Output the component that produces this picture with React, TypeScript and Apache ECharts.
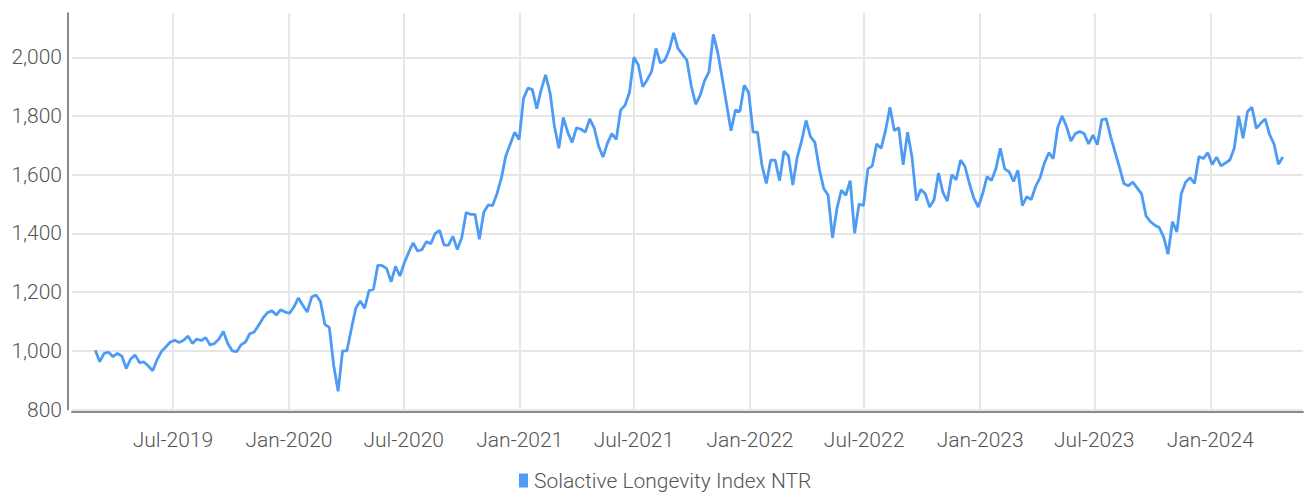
import React, { useEffect, useRef } from "react";
import * as echarts from "echarts";

// ---- data (weekly closes) ----
const seriesName = "Solactive Longevity Index NTR";
const firstDate = "2019-02-28";
const axisStart = "2019-01-22";
const axisEnd = "2024-05-27";
const labelMonths = ["01", "07"];
const monthNames = ["Jan", "Feb", "Mar", "Apr", "May", "Jun", "Jul", "Aug", "Sep", "Oct", "Nov", "Dec"];
const yMin = 800;
const yMax = 2150;
const yStep = 200;

const v2019 = [1002, 963, 991, 995, 980, 991, 982, 940, 972, 986, 960, 962, 948, 932, 970, 998, 1014, 1030, 1036, 1028, 1036, 1050, 1025, 1040, 1035, 1045, 1020, 1025, 1040, 1066, 1025, 1000, 997, 1020, 1030, 1058, 1064, 1087, 1112, 1130, 1136, 1122, 1140, 1132];
const v2020 = [1128, 1150, 1180, 1155, 1132, 1183, 1190, 1168, 1090, 1080, 950, 862, 1000, 1000, 1075, 1145, 1170, 1145, 1205, 1210, 1292, 1290, 1280, 1235, 1288, 1255, 1300, 1336, 1368, 1340, 1345, 1372, 1365, 1400, 1410, 1360, 1360, 1390, 1345, 1385, 1471, 1465, 1465, 1380, 1472, 1497, 1495, 1536, 1590, 1665, 1705, 1745, 1720];
const v2021 = [1860, 1895, 1890, 1825, 1890, 1940, 1880, 1765, 1690, 1795, 1745, 1710, 1760, 1755, 1745, 1790, 1760, 1698, 1660, 1707, 1740, 1720, 1820, 1837, 1880, 2000, 1974, 1900, 1923, 1951, 2030, 1980, 1990, 2025, 2083, 2030, 2010, 1990, 1902, 1840, 1870, 1920, 1950, 2078, 2016, 1930, 1840, 1750, 1820, 1815, 1905, 1880];
const v2022 = [1745, 1745, 1633, 1570, 1650, 1650, 1580, 1680, 1665, 1565, 1660, 1715, 1785, 1730, 1710, 1620, 1553, 1530, 1385, 1485, 1547, 1530, 1580, 1400, 1500, 1495, 1620, 1630, 1705, 1690, 1750, 1830, 1750, 1760, 1634, 1745, 1660, 1512, 1550, 1535, 1490, 1515, 1606, 1540, 1510, 1600, 1583, 1650, 1628, 1570, 1520, 1490];
const v2023 = [1535, 1594, 1580, 1620, 1690, 1620, 1610, 1577, 1615, 1495, 1525, 1515, 1560, 1589, 1640, 1675, 1655, 1760, 1800, 1764, 1715, 1740, 1747, 1740, 1705, 1735, 1702, 1788, 1790, 1730, 1677, 1625, 1570, 1562, 1575, 1555, 1535, 1460, 1440, 1428, 1420, 1388, 1329, 1440, 1405, 1535, 1575, 1590, 1570, 1662, 1655, 1675];
const v2024 = [1635, 1660, 1630, 1640, 1650, 1690, 1800, 1724, 1815, 1830, 1758, 1775, 1790, 1737, 1705, 1636, 1660];

const FONT = "Roboto, 'Noto Sans', sans-serif";
const TEXT = { fontFamily: FONT, fontSize: 21, fontWeight: 300 as const, color: "#555" };

function addDays(iso: string, n: number): string {
  const d = new Date(iso + "T00:00:00Z");
  d.setUTCDate(d.getUTCDate() + n);
  return d.toISOString().slice(0, 10);
}

export default function App() {
  const ref = useRef<HTMLDivElement>(null);

  useEffect(() => {
    if (!ref.current) return;
    const chart = echarts.init(ref.current, null, { renderer: "svg" });

    const days: string[] = [];
    for (let d = axisStart; d <= axisEnd; d = addDays(d, 1)) days.push(d);
    const index = new Map<string, number>();
    days.forEach((d, i) => index.set(d, i));

    const values = [...v2019, ...v2020, ...v2021, ...v2022, ...v2023, ...v2024];
    const data = values.map((v, i) => [index.get(addDays(firstDate, 7 * i)), v]);

    const isMark = (_i: number, val: string) =>
      val.slice(8, 10) === "01" && labelMonths.includes(val.slice(5, 7));

    const splitColors: string[] = [];
    for (let v = yMin; v <= yMax; v += yStep) splitColors.push("#e6e6e6");
    splitColors.push("rgba(0,0,0,0)");

    chart.setOption({
      animation: false,
      grid: { left: 72, right: 3, top: 13.3, bottom: 88.5, containLabel: false, outerBoundsMode: "none" },
      legend: {
        data: [seriesName],
        top: 470,
        left: 519,
        padding: 0,
        icon: "rect",
        itemWidth: 9,
        itemHeight: 14,
        itemGap: 10,
        textStyle: { ...TEXT, padding: [0, 0, 0, 1] },
      },
      xAxis: {
        type: "category",
        data: days,
        boundaryGap: false,
        offset: 2.5,
        axisLine: { show: true, lineStyle: { color: "#8a8a8a", width: 2 } },
        axisTick: { show: false },
        axisLabel: {
          interval: isMark,
          margin: 17,
          ...TEXT,
          formatter: (val: string) => monthNames[Number(val.slice(5, 7)) - 1] + "-" + val.slice(0, 4),
        },
        splitLine: { show: true, interval: isMark, lineStyle: { color: "#e6e6e6", width: 2 } },
      },
      yAxis: {
        type: "value",
        min: yMin,
        max: yMax,
        interval: yStep,
        offset: 4,
        axisLine: { show: true, lineStyle: { color: "#8a8a8a", width: 2 } },
        axisTick: { show: false },
        axisLabel: {
          margin: 6,
          ...TEXT,
          formatter: (v: number) => (v % yStep === 0 ? v.toLocaleString("en-US") : ""),
        },
        splitLine: { show: true, lineStyle: { color: splitColors, width: 2 } },
      },
      series: [
        {
          name: seriesName,
          type: "line",
          data,
          showSymbol: false,
          symbol: "none",
          color: "#4d9bf5",
          lineStyle: { color: "#4d9bf5", width: 2.8 },
        },
      ],
    });

    return () => chart.dispose();
  }, []);

  return <div ref={ref} style={{ position: "absolute", left: 0, top: 0, width: 1306, height: 498 }} />;
}
